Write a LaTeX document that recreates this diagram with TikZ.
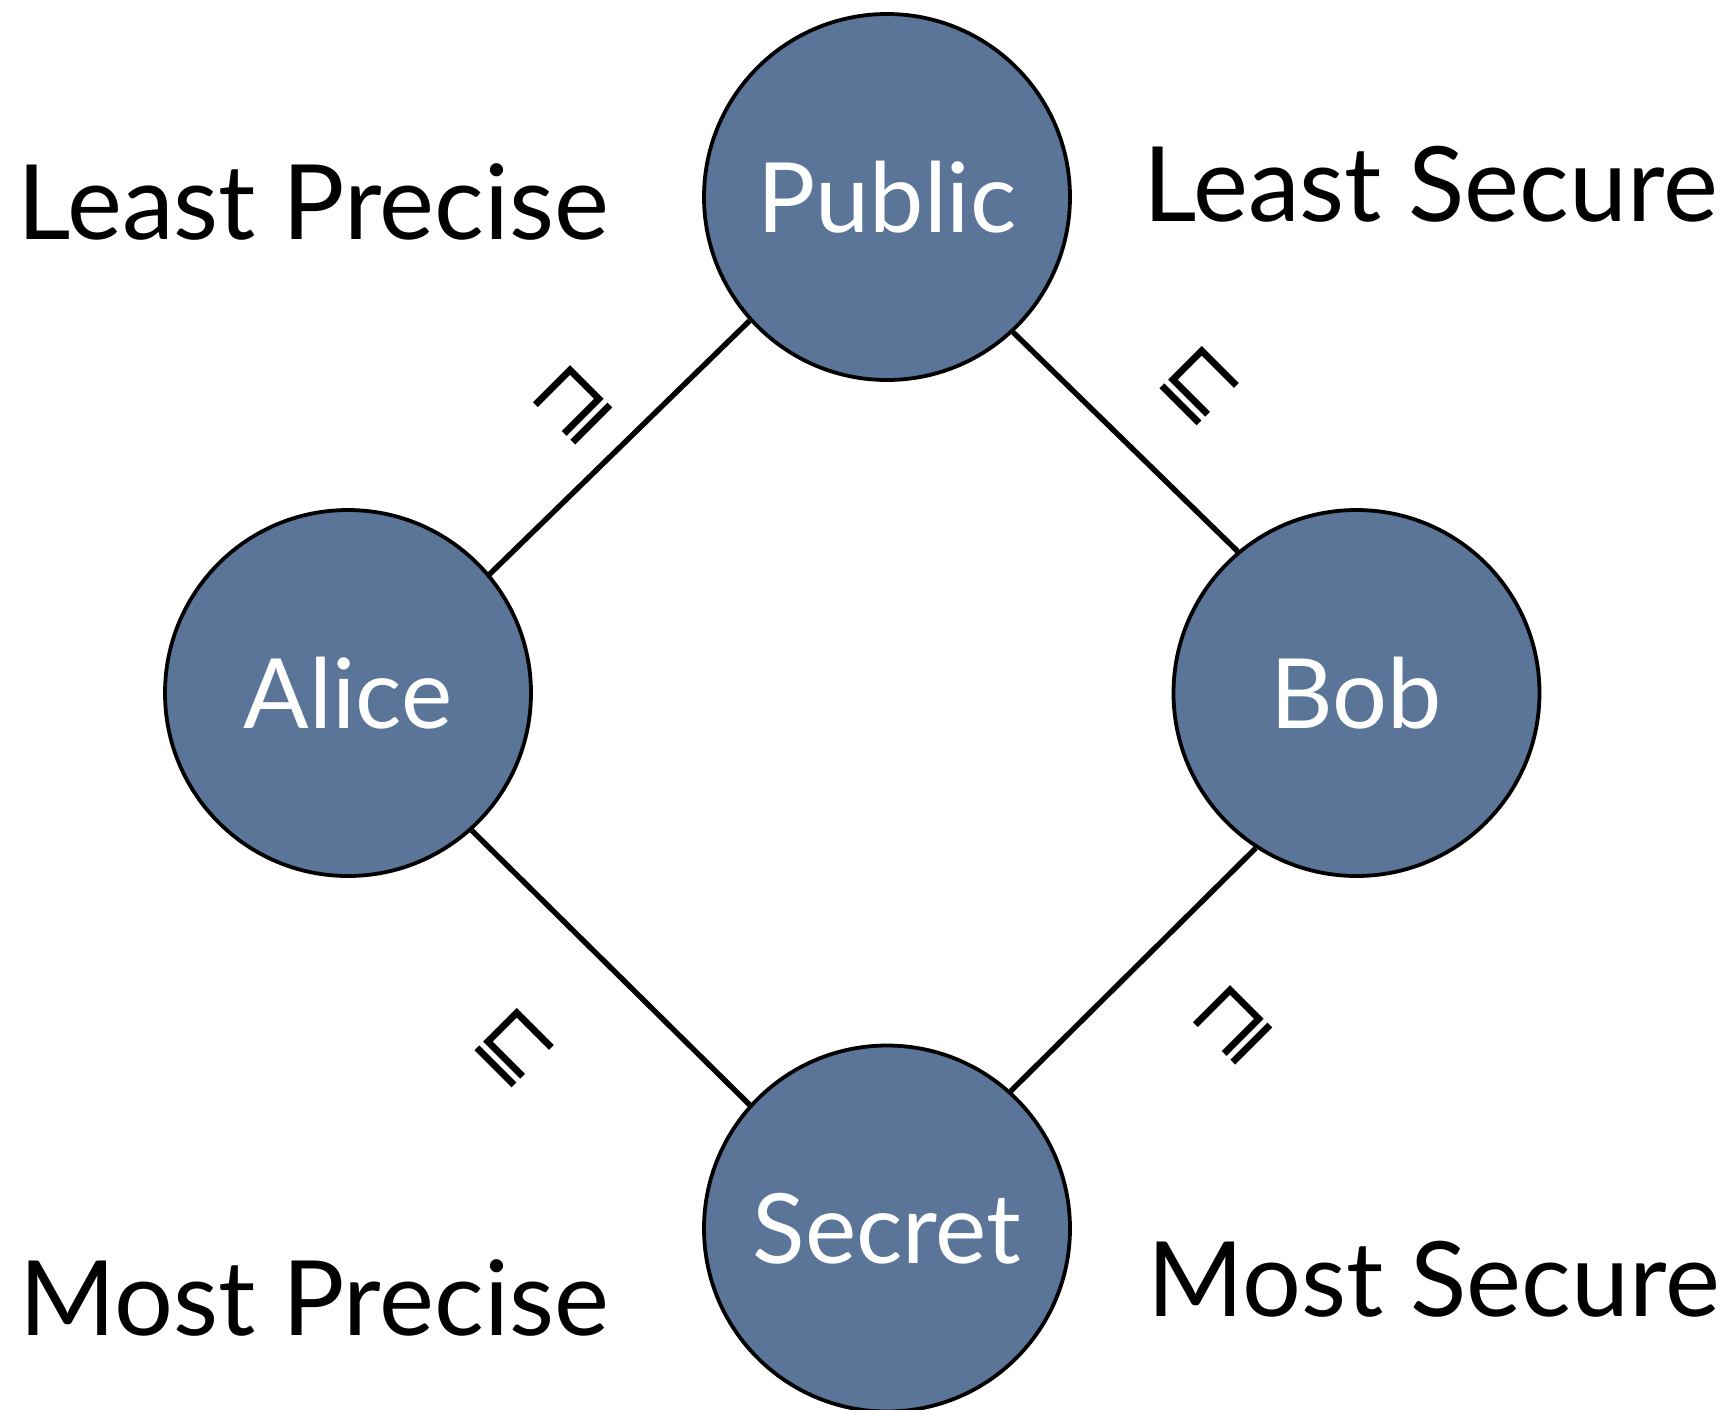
\documentclass[tikz,border=0pt]{standalone}
\usepackage{fontspec}
\setmainfont{Lato}
\newfontfamily\relfont{DejaVu Sans}
\definecolor{nodeblue}{RGB}{90,117,151}
\begin{document}
\begin{tikzpicture}[x=0.5pt,y=-0.5pt,
  circ/.style={circle,draw=black,line width=1.9pt,fill=nodeblue,minimum size=183pt,inner sep=0pt,text=white,font=\fontsize{48.5}{50}\selectfont},
  lbl/.style={anchor=base west,inner sep=0pt,font=\fontsize{52}{60}\selectfont},
  edge/.style={line width=2.7pt},
  rel/.style={inner sep=0pt,font=\relfont\fontsize{42}{44}\selectfont}]
\useasboundingbox (0,0) rectangle (1730,1409);
\node[circ] (pub) at (887,197) {Public};
\node[circ] (alice) at (348,693) {Alice};
\node[circ] (bob) at (1356.5,693) {Bob};
\node[circ] (sec) at (887,1228.5) {Secret};
\draw[edge] (pub.222) -- (alice.40);
\draw[edge] (pub.313) -- (bob.130);
\draw[edge] (alice.312) -- (sec.138);
\draw[edge] (bob.237) -- (sec.48);
\node[rel,rotate=45] (r1) at (573,405) {⊒};
\node[rel,rotate=-45] (r2) at (1200,386) {⊑};
\node[rel,rotate=-45] (r3) at (515,1048) {⊑};
\node[rel,rotate=45] (r4) at (1233,1025) {⊒};
\node[lbl] (lp) at (17,239) {Least Precise};
\node[lbl] (ls) at (1143,221) {Least Secure};
\node[lbl] (mp) at (19,1335) {Most Precise};
\node[lbl] (ms) at (1147,1316) {Most Secure};
\end{tikzpicture}
\end{document}
